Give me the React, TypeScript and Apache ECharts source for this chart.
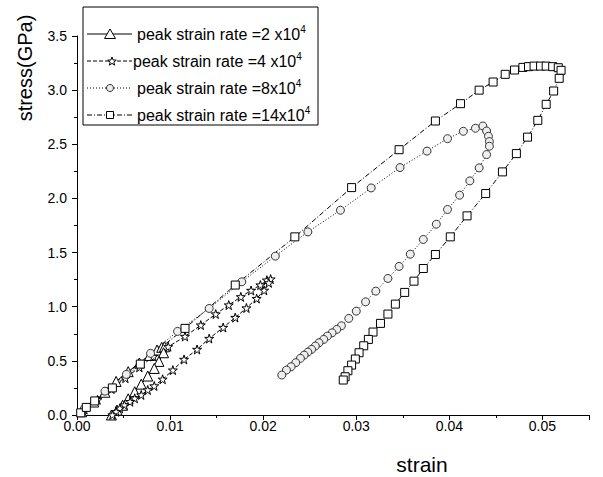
import React, { useEffect, useRef } from "react";
import * as echarts from "echarts";

// ---- data (strain, stress in GPa) ----
const triStrain = [0.0005, 0.0018, 0.0030, 0.0042, 0.0055, 0.0067, 0.0078, 0.0086, 0.0091, 0.0094, 0.0093, 0.0088, 0.0083, 0.0076, 0.0069, 0.0062, 0.0055, 0.0049, 0.0043, 0.0037];
const triStress = [0.03, 0.12, 0.21, 0.31, 0.40, 0.48, 0.55, 0.60, 0.625, 0.63, 0.575, 0.495, 0.43, 0.36, 0.285, 0.215, 0.15, 0.09, 0.045, 0.0];

const starStrain = [0.0008, 0.0022, 0.0037, 0.0052, 0.0067, 0.0082, 0.0098, 0.0116, 0.0133, 0.0149, 0.0163, 0.0176, 0.0187, 0.0197, 0.0204, 0.0208, 0.0206, 0.0201, 0.0193, 0.0182, 0.0170, 0.0157, 0.0142, 0.0129, 0.0115, 0.0103, 0.0092, 0.0083, 0.0076, 0.0069, 0.0062, 0.0057, 0.0051, 0.0046, 0.0042, 0.0038];
const starStress = [0.05, 0.14, 0.24, 0.34, 0.44, 0.54, 0.63, 0.725, 0.83, 0.932, 1.015, 1.091, 1.15, 1.20, 1.245, 1.255, 1.22, 1.151, 1.075, 0.988, 0.90, 0.808, 0.706, 0.605, 0.513, 0.414, 0.33, 0.268, 0.231, 0.185, 0.154, 0.123, 0.092, 0.062, 0.03, 0.0];

const cirStrain = [0.0008, 0.0030, 0.0053, 0.0079, 0.0108, 0.0142, 0.0177, 0.0213, 0.0248, 0.0283, 0.0316, 0.0347, 0.0376, 0.0398, 0.0415, 0.0428, 0.0436, 0.0440, 0.0442, 0.0443, 0.0443, 0.0440, 0.0432, 0.0422, 0.0411, 0.0398, 0.0386, 0.0372, 0.0358, 0.0346, 0.0334, 0.0321, 0.0310, 0.0300, 0.0292, 0.0284, 0.0279, 0.0274, 0.0269, 0.0265, 0.0260, 0.0256, 0.0252, 0.0248, 0.0244, 0.0240, 0.0235, 0.0230, 0.0225, 0.0220];
const cirStress = [0.06, 0.22, 0.375, 0.569, 0.772, 0.984, 1.23, 1.467, 1.691, 1.891, 2.097, 2.285, 2.437, 2.552, 2.62, 2.648, 2.669, 2.623, 2.574, 2.525, 2.482, 2.405, 2.282, 2.162, 2.03, 1.898, 1.762, 1.621, 1.485, 1.372, 1.261, 1.144, 1.045, 0.959, 0.892, 0.824, 0.79, 0.759, 0.729, 0.698, 0.667, 0.637, 0.606, 0.581, 0.553, 0.523, 0.483, 0.446, 0.415, 0.369];

const sqStrain = [0.0004, 0.0010, 0.0019, 0.0038, 0.0068, 0.0116, 0.0170, 0.0234, 0.0295, 0.0346, 0.0385, 0.0412, 0.0432, 0.0447, 0.0460, 0.0470, 0.0479, 0.0485, 0.0491, 0.0498, 0.0504, 0.0511, 0.0517, 0.0520, 0.0518, 0.0512, 0.0504, 0.0495, 0.0484, 0.0472, 0.0457, 0.0439, 0.0419, 0.0401, 0.0385, 0.0372, 0.0362, 0.0352, 0.0342, 0.0334, 0.0326, 0.0318, 0.0313, 0.0308, 0.0303, 0.0299, 0.0295, 0.0291, 0.0288, 0.0286];
const sqStress = [0.02, 0.07, 0.13, 0.25, 0.47, 0.80, 1.20, 1.645, 2.10, 2.45, 2.715, 2.875, 3.00, 3.075, 3.146, 3.186, 3.21, 3.217, 3.222, 3.222, 3.222, 3.217, 3.207, 3.183, 3.109, 2.992, 2.869, 2.721, 2.566, 2.414, 2.245, 2.045, 1.839, 1.645, 1.482, 1.353, 1.236, 1.132, 1.024, 0.932, 0.846, 0.766, 0.698, 0.639, 0.575, 0.517, 0.461, 0.409, 0.353, 0.323];

const legendBase = ["peak strain rate =2 x10", "peak strain rate =4 x10", "peak strain rate =8x10", "peak strain rate =14x10"];
const legendExp = ["4", "4", "4", "4"];
const xLabel = "strain";
const yLabel = "stress(GPa)";

const FONT = "'Liberation Sans', Arial, Helvetica, sans-serif";
const STAR = "path://M50,2 L61,36 L97,36 L68,58 L79,93 L50,71 L21,93 L32,58 L3,36 L39,36 Z";

function pairs(xs: number[], ys: number[]) {
  return xs.map((x, i) => [x, ys[i]]);
}

function starPoints(cx: number, cy: number, r: number) {
  const pts: number[][] = [];
  for (let i = 0; i < 10; i++) {
    const a = -Math.PI / 2 + (i * Math.PI) / 5;
    const rr = i % 2 === 0 ? r : r * 0.42;
    pts.push([cx + rr * Math.cos(a), cy + rr * Math.sin(a)]);
  }
  return pts;
}

export default function App() {
  const ref = useRef<HTMLDivElement>(null);
  useEffect(() => {
    if (!ref.current) return;
    const chart = echarts.init(ref.current, undefined, { renderer: "svg" });
    const lineBase = { color: "#000", width: 1 };
    const rows = [34, 61, 88, 115];
    const legendGraphics: any[] = [
      { type: "rect", shape: { x: 83, y: 7, width: 235, height: 118 }, style: { fill: "#fff", stroke: "#000", lineWidth: 1 }, z: 100 },
    ];
    const dashes = [null, [4, 2], [1, 2], [5, 2, 1, 2]];
    rows.forEach((ry, i) => {
      legendGraphics.push({ type: "line", shape: { x1: 87, y1: ry, x2: 132, y2: ry }, style: { stroke: "#000", lineWidth: 1, lineDash: dashes[i] }, z: 101 });
      const textX = i === 1 ? 133 : 137;
      legendGraphics.push({
        type: "text", x: textX, y: ry, z: 103,
        style: {
          text: legendBase[i] + "{sup|" + legendExp[i] + "}",
          fill: "#000", fontSize: 16, fontFamily: FONT, lineHeight: 20, verticalAlign: "middle", align: "left",
          rich: { sup: { fontSize: 10, lineHeight: 10, verticalAlign: "top", fontFamily: FONT, fill: "#000" } },
        },
      });
    });
    legendGraphics.push({ type: "polygon", shape: { points: [[110, 29], [115.5, 38.5], [104.5, 38.5]] }, style: { fill: "#fff", stroke: "#000", lineWidth: 1 }, z: 102 });
    legendGraphics.push({ type: "polygon", shape: { points: starPoints(112, 61.5, 4.5) }, style: { fill: "#fff", stroke: "#000", lineWidth: 1 }, z: 102 });
    legendGraphics.push({ type: "circle", shape: { cx: 110, cy: 88, r: 3.5 }, style: { fill: "#eee", stroke: "#333", lineWidth: 1 }, z: 102 });
    legendGraphics.push({ type: "rect", shape: { x: 106.5, y: 111.5, width: 7, height: 7 }, style: { fill: "#fff", stroke: "#000", lineWidth: 1 }, z: 102 });

    chart.setOption({
      animation: false,
      backgroundColor: "#fff",
      grid: { left: 77, top: 36, width: 512, height: 379, containLabel: false },
      xAxis: {
        type: "value", min: 0, max: 0.055, interval: 0.01,
        axisLine: { show: true, onZero: false, lineStyle: { color: "#000", width: 1 } },
        axisTick: { show: true, inside: false, length: 5, lineStyle: { color: "#000" } },
        minorTick: { show: true, splitNumber: 2, length: 3, lineStyle: { color: "#000" } },
        splitLine: { show: false },
        axisLabel: { showMaxLabel: false, margin: 4, color: "#000", fontSize: 14, fontFamily: FONT, formatter: (v: number) => v.toFixed(2) },
      },
      yAxis: {
        type: "value", min: 0, max: 3.5, interval: 0.5,
        axisLine: { show: true, onZero: false, lineStyle: { color: "#000", width: 1 } },
        axisTick: { show: true, inside: false, length: 5, lineStyle: { color: "#000" } },
        minorTick: { show: true, splitNumber: 2, length: 3, lineStyle: { color: "#000" } },
        splitLine: { show: false },
        axisLabel: { margin: 10, color: "#000", fontSize: 14, fontFamily: FONT, formatter: (v: number) => v.toFixed(1) },
      },
      series: [
        {
          name: legendBase[0], type: "line", data: pairs(triStrain, triStress),
          symbol: "triangle", symbolSize: 10,
          lineStyle: { ...lineBase, type: "solid" },
          itemStyle: { color: "#fff", borderColor: "#000", borderWidth: 1 },
        },
        {
          name: legendBase[1], type: "line", data: pairs(starStrain, starStress),
          symbol: STAR, symbolSize: 9,
          lineStyle: { ...lineBase, type: [4, 2] },
          itemStyle: { color: "#fff", borderColor: "#000", borderWidth: 1 },
        },
        {
          name: legendBase[2], type: "line", data: pairs(cirStrain, cirStress),
          symbol: "circle", symbolSize: 8,
          lineStyle: { ...lineBase, type: [1, 2] },
          itemStyle: { color: "#eee", borderColor: "#333", borderWidth: 1 },
        },
        {
          name: legendBase[3], type: "line", data: pairs(sqStrain, sqStress),
          symbol: "rect", symbolSize: 8,
          lineStyle: { ...lineBase, type: [5, 2, 1, 2] },
          itemStyle: { color: "#fff", borderColor: "#000", borderWidth: 1 },
        },
      ],
      graphic: [
        ...legendGraphics,
        { type: "text", x: 422, y: 464, style: { text: xLabel, fill: "#000", fontSize: 21, fontFamily: FONT, align: "center", verticalAlign: "middle" } },
        { type: "text", x: 25, y: 68, rotation: Math.PI / 2, style: { text: yLabel, fill: "#000", fontSize: 20, fontFamily: FONT, align: "center", verticalAlign: "middle" } },
      ],
    });
    return () => chart.dispose();
  }, []);
  return <div ref={ref} style={{ position: "fixed", left: 0, top: 0, width: 603, height: 477, background: "#fff" }} />;
}
